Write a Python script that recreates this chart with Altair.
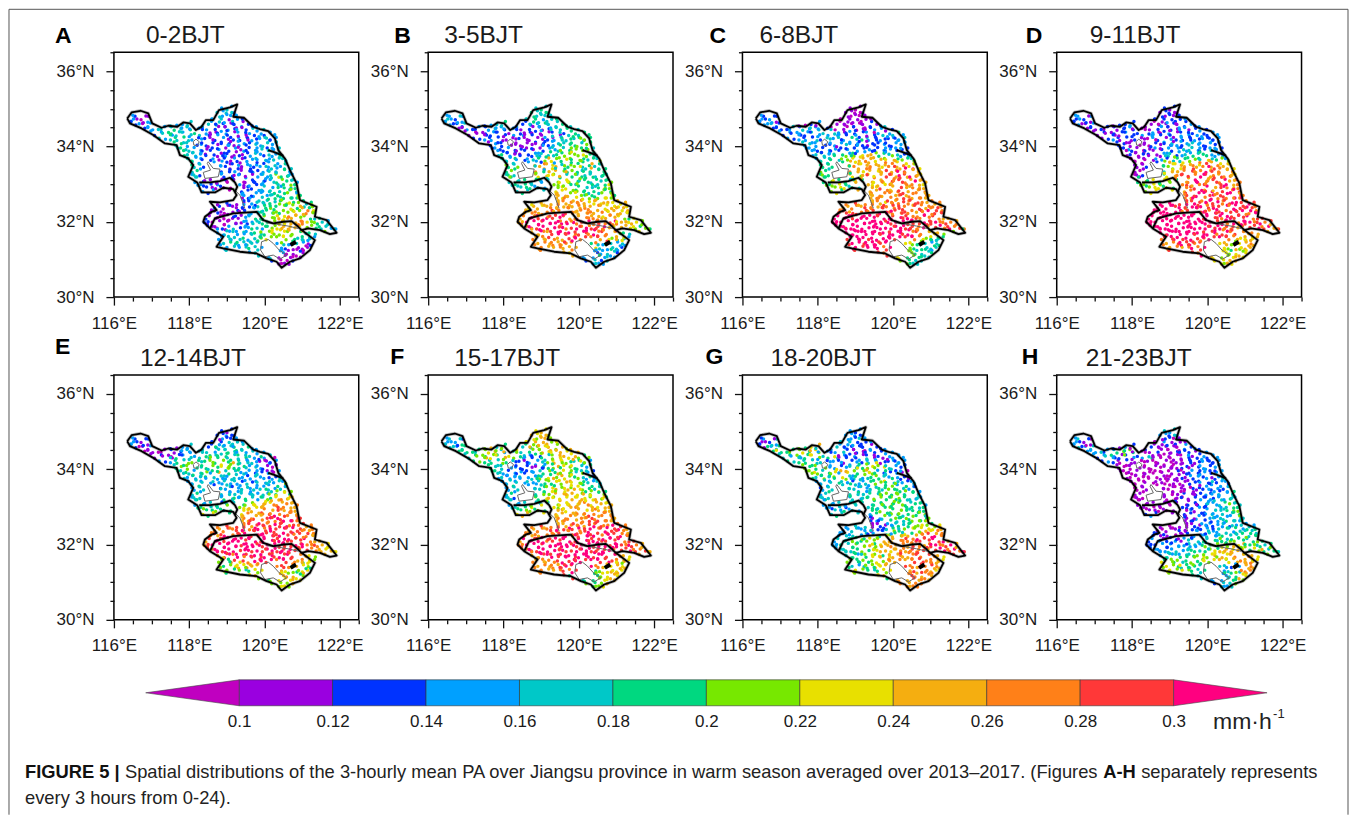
import altair as alt
import pandas as pd
from itertools import cycle

FONT = "Liberation Sans"
TICK_LON = [116, 116.5, 117, 117.5, 118, 118.5, 119, 119.5, 120, 120.5, 121, 121.5, 122, 122.5]
TICK_LAT = [30, 30.5, 31, 31.5, 32, 32.5, 33, 33.5, 34, 34.5, 35, 35.5, 36, 36.5]
BREAKS = [0.1, 0.12, 0.14, 0.16, 0.18, 0.2, 0.22, 0.24, 0.26, 0.28, 0.3]
COLORS = ["#C000C0", "#9A00E0", "#0033FF", "#00A0FF", "#00C8C8", "#00D880",
          "#77E800", "#E8E000", "#F5AE10", "#FF8018", "#FF3838", "#FF0080"]
CLASS_VALUE = dict(zip("0123456789AB", [0.09, 0.11, 0.13, 0.15, 0.17, 0.19, 0.21, 0.23, 0.25, 0.27, 0.29, 0.31]))

OUTER_LON = [116.354,116.469,116.708,116.912,117.018,117.265,117.442,117.681,117.841,118.018,118.177,118.327,118.442,118.637,118.788,119.08,119.274,119.168,119.451,119.699,119.876,120.097,120.274,120.363,120.54,120.673,120.85,120.938,121.381,121.336,121.646,121.912,121.735,121.469,121.159,120.982,121.336,121.204,120.938,120.673,120.451,120.319,120.053,119.788,119.345,118.903,118.726,118.903,118.77,118.549,118.372,118.416,118.593,118.726,118.549,118.814,119.168,119.257,119.168,118.903,118.681,118.327,118.212,117.973,118.106,117.973,117.752,117.664,117.354,117.044,116.735,116.425,116.354]
OUTER_LAT = [34.743,34.903,34.947,34.876,34.611,34.496,34.549,34.522,34.637,34.611,34.434,34.522,34.699,34.699,34.965,35.035,35.115,34.788,34.761,34.522,34.46,34.407,34.212,33.903,33.681,33.372,33.018,32.575,32.398,32.133,32.044,31.708,31.673,31.779,31.823,31.779,31.513,31.248,31.027,30.938,30.779,30.938,31.027,31.159,31.204,31.292,31.336,31.602,31.69,31.823,32.0,32.133,32.265,32.31,32.531,32.513,32.575,32.708,32.867,32.903,32.779,32.779,33.044,33.195,33.504,33.681,33.77,34.035,34.08,34.301,34.478,34.611,34.743]
RIVER_LON = [118.549,118.681,119.168,119.566,119.788,119.965,120.23,120.496,120.717,120.894,120.982]
RIVER_LAT = [31.823,32.088,32.221,32.248,32.265,32.044,31.956,32.0,32.018,31.867,31.779]
NORTH_LON = [118.265,118.549,118.814,119.08,119.212,119.274,119.212]
NORTH_LAT = [33.044,33.044,33.08,33.168,33.044,32.929,32.796]
EAST_LON = [120.097,120.274,120.496]
EAST_LAT = [33.903,33.841,33.752]
THIN_LINES = {
    "hongze": ([118.504,118.637,118.814,118.77,118.416,118.372,118.566,118.478,118.504],
               [33.593,33.416,33.398,33.195,33.15,33.31,33.372,33.549,33.593]),
    "luoma": ([118.106,118.177,118.265,118.212,118.124,118.106],
              [34.124,34.195,34.124,34.018,34.035,34.124]),
    "gaoyou": ([119.212,119.345,119.478], [32.841,32.708,32.354]),
    "taihu": ([119.92,120.097,120.23,120.389,120.584,120.407,120.23,120.009,119.894,119.92],
              [31.469,31.531,31.425,31.248,31.115,31.009,31.115,31.071,31.248,31.469]),
    "bank": ([120.053,120.319,120.628,120.894], [31.973,31.938,31.885,31.823]),
}
BLOB_LON = [120.69, 120.832]
BLOB_LAT = [31.381, 31.469]

ROW_LAT = [35.02,34.89,34.76,34.62,34.48,34.34,34.20,34.06,33.92,33.78,33.64,33.50,33.36,33.22,33.08,32.94,32.80,32.66,32.52,32.40,32.26,32.12,31.98,31.84,31.70,31.56,31.42,31.28,31.14,31.00,30.88]
ROW_LON = [
 [118.86,119.00,119.12],
 [118.79,118.93,119.05,119.19],
 [116.47,116.60,116.72,116.86,118.66,118.80,118.92,119.06,119.18,119.33],
 [116.45,116.58,116.71,116.83,116.97,117.87,118.00,118.46,118.58,118.72,118.85,118.98,119.11,119.24,119.38,119.52],
 [116.82,116.94,117.08,117.20,117.34,117.47,117.60,117.73,117.85,117.98,118.08,118.26,118.38,118.51,118.64,118.77,118.90,119.03,119.16,119.30,119.43,119.56,119.69,119.82],
 [117.08,117.21,117.34,117.47,117.60,117.73,117.87,118.00,118.14,118.27,118.40,118.53,118.66,118.80,118.93,119.06,119.20,119.33,119.46,119.60,119.73,119.86,119.99,120.10],
 [117.32,117.45,117.58,117.72,117.85,117.98,118.33,118.46,118.59,118.73,118.86,118.99,119.12,119.26,119.39,119.52,119.66,119.79,119.92,120.05,120.18,120.26],
 [117.70,117.84,117.97,118.32,118.45,118.58,118.71,118.84,118.98,119.11,119.24,119.37,119.51,119.64,119.77,119.90,120.03,120.16,120.30],
 [117.72,117.86,117.99,118.12,118.26,118.39,118.52,118.65,118.79,118.92,119.05,119.18,119.32,119.45,119.58,119.71,119.84,119.98,120.11,120.24,120.34],
 [117.82,117.95,118.08,118.22,118.35,118.48,118.61,118.75,118.88,119.01,119.14,119.28,119.41,119.54,119.67,119.80,119.94,120.07,120.20,120.33,120.46],
 [118.00,118.13,118.26,118.39,118.52,118.66,118.79,118.92,119.05,119.19,119.32,119.45,119.58,119.72,119.85,119.98,120.11,120.24,120.38,120.51],
 [118.12,118.25,118.38,118.78,118.91,119.04,119.18,119.31,119.44,119.57,119.71,119.84,119.97,120.10,120.23,120.37,120.50,120.62],
 [118.08,118.21,118.34,118.90,119.03,119.16,119.29,119.43,119.56,119.69,119.82,119.96,120.09,120.22,120.35,120.48,120.62,120.70],
 [118.02,118.15,118.28,118.84,118.97,119.10,119.24,119.37,119.50,119.63,119.77,119.90,120.03,120.16,120.29,120.43,120.56,120.69,120.77],
 [118.20,118.33,118.46,118.60,118.73,118.86,118.99,119.13,119.40,119.53,119.66,119.79,119.93,120.06,120.19,120.32,120.46,120.59,120.72,120.82],
 [118.30,118.43,118.56,118.70,118.83,118.96,119.10,119.38,119.51,119.64,119.78,119.91,120.04,120.17,120.31,120.44,120.57,120.70,120.84],
 [118.36,118.50,118.63,119.34,119.47,119.60,119.73,119.87,120.00,120.13,120.26,120.40,120.53,120.66,120.80,120.91],
 [119.36,119.49,119.62,119.75,119.89,120.02,120.15,120.28,120.42,120.55,120.68,120.81,120.93],
 [119.40,119.53,119.66,119.80,119.93,120.06,120.19,120.33,120.46,120.59,120.72,120.85,120.98,121.11,121.24],
 [118.72,118.85,118.98,119.12,119.25,119.42,119.55,119.68,119.82,119.95,120.08,120.21,120.35,120.48,120.61,120.74,120.87,121.00,121.14,121.27],
 [118.58,118.71,118.84,118.98,119.11,119.24,119.38,119.51,119.64,119.78,119.91,120.04,120.17,120.31,120.44,120.57,120.70,120.83,120.97,121.10,121.23],
 [118.44,118.57,118.70,118.84,118.97,119.10,119.23,119.37,119.50,119.63,119.76,119.90,120.03,120.16,120.29,120.43,120.56,120.69,120.82,120.96,121.09,121.22,121.33],
 [118.40,118.53,118.66,118.80,118.93,119.06,119.19,119.33,119.46,119.59,119.72,119.86,119.99,120.12,120.26,120.39,120.52,120.65,120.78,120.92,121.05,121.18,121.32,121.45,121.58,121.68],
 [118.56,118.69,118.83,118.96,119.09,119.22,119.36,119.49,119.62,119.75,119.89,120.02,120.15,120.28,120.42,120.55,120.68,120.81,120.92,121.18,121.32,121.45,121.58,121.72,121.84],
 [118.80,118.93,119.06,119.20,119.33,119.46,119.59,119.73,119.86,119.99,120.12,120.25,120.39,120.52,120.65,120.78,120.91,121.05,121.18,121.30],
 [118.90,119.03,119.16,119.30,119.43,119.56,119.69,119.83,119.96,120.09,120.22,120.36,120.49,120.62,120.75,120.88,121.02,121.15,121.28],
 [118.78,118.91,119.05,119.18,119.31,119.44,119.58,119.71,119.84,120.33,120.46,120.59,120.85,120.98,121.11,121.22],
 [118.90,119.03,119.37,119.50,119.63,119.77,119.88,120.42,120.55,120.68,120.81,120.95,121.08,121.18],
 [119.84,120.45,120.58,120.71,120.84,120.97],
 [120.10,120.24,120.42,120.55,120.68,120.80],
 [120.38,120.50,120.60],
]
ROW2_LAT = [34.95,34.82,34.69,34.55,34.41,34.27,34.13,33.99,33.85,33.71,33.57,33.43,33.29,33.15,33.01,32.87,32.73,32.59,32.46,32.33,32.19,32.05,31.91,31.77,31.63,31.49,31.35,31.21,31.07,30.94]
ROW2_LON = [
 [118.9,119.13],
 [116.55,116.8,118.86,119.1,119.3],
 [116.4,116.65,116.9,118.55,118.85,119.1,119.45],
 [116.66,116.9,117.45,117.72,117.95,118.4,118.65,118.9,119.15,119.4,119.62],
 [116.98,117.22,117.5,117.75,118.0,118.3,118.55,118.8,119.05,119.3,119.55,119.8,120.02],
 [117.2,117.45,117.7,117.95,118.3,118.55,118.8,119.05,119.3,119.55,119.8,120.05,120.22],
 [117.55,117.8,118.02,118.38,118.62,118.85,119.1,119.35,119.6,119.85,120.1,120.26],
 [117.75,118.0,118.25,118.5,118.75,119.0,119.25,119.5,119.75,120.0,120.25],
 [117.8,118.05,118.3,118.55,118.8,119.05,119.3,119.55,119.8,120.05,120.3],
 [117.92,118.18,118.43,118.68,118.93,119.18,119.43,119.68,119.93,120.18,120.43],
 [118.1,118.33,118.82,119.05,119.3,119.55,119.8,120.05,120.3,120.55],
 [118.18,118.83,119.08,119.33,119.58,119.83,120.08,120.33,120.58],
 [118.12,118.86,119.11,119.36,119.61,119.86,120.11,120.36,120.64],
 [118.12,118.9,119.15,119.48,119.73,119.98,120.23,120.48,120.72],
 [118.28,118.53,118.78,119.05,119.45,119.7,119.95,120.2,120.45,120.75],
 [118.45,118.75,119.02,119.4,119.65,119.9,120.15,120.4,120.65,120.86],
 [119.4,119.65,119.9,120.15,120.4,120.65,120.9],
 [119.4,119.65,119.9,120.15,120.4,120.65,120.9],
 [118.7,118.95,119.15,119.45,119.7,119.95,120.2,120.45,120.7,120.95,121.2],
 [118.72,118.95,119.2,119.45,119.7,119.95,120.2,120.45,120.7,120.95,121.2,121.35],
 [118.55,118.78,119.02,119.28,119.53,119.78,120.03,120.28,120.53,120.78,121.03,121.28],
 [118.5,118.75,119.0,119.25,119.5,119.75,120.0,120.25,120.5,120.75,121.0,121.25,121.5],
 [118.48,118.73,118.98,119.23,119.48,119.73,119.98,120.23,120.48,120.73,120.95,121.25,121.5,121.72],
 [118.7,118.95,119.2,119.45,119.7,119.95,120.2,120.45,120.7,120.95,121.55,121.8],
 [118.95,119.2,119.45,119.7,119.95,120.2,120.45,120.7,120.95,121.2],
 [118.82,119.07,119.32,119.57,119.82,120.45,120.7,120.95,121.2],
 [118.95,119.2,119.45,119.7,120.45,120.7,120.95,121.15],
 [119.55,119.8,120.5,120.75,121.0],
 [120.15,120.5,120.75,120.9],
 [120.42,120.58],
]
# small per-station position estimates (key into STATION_OFFSET), one string per row
OFFSET_CODES = ["528","4615","37291","82645193","57138926471","29461873526","63918254719","14752968341","96283147592","35817462913","71946258381","48263975162","25719384625","93581647293","16472859316","84395127648","52861739452","37146982513","69253814726","14978263591","83516947265","27691348572","51482736914","96327158463","42871965328","78135269417","35962814753","61784392516","2956","8173","546"]
STATION_OFFSET = {"1": (-0.05, -0.04), "2": (0.0, -0.05), "3": (0.05, -0.03), "4": (-0.05, 0.01), "5": (0.0, 0.0),
                  "6": (0.05, -0.01), "7": (-0.04, 0.04), "8": (0.01, 0.05), "9": (0.05, 0.04)}

CLASSES = {
 "A": ["343","4432","3201443123","3201334434231212","233434543453432123213243","234534345432123213132323","3454543212312321323443","4543221232133243433","544332123123132334234","543431212312123434345","54322312132134343443","532321231323234354","453213212323343434","3423221231343467543","32112101013232356543","3213210323234343545","3232323434545543","1323434545456","123434545656545","32121123455656565456","121012123455565667698","21010121345566788986654","21010121323455678889976543","1021342334356778887654433","34343345456767665454","3434534567667654543","3454345433434312","34345433210101","430101","321012","101"],
 "B": ["454","5445","4323554344","4323445222345445","123232343323212121234454","101223221323211112124545","2323211211112133454545","2321111212234455466","322321211123344556564","453321223344556667654","54532345687656565454","646889878656545454","565988786565445455","4548787654545445454","45454534677654545456","5454343676545454567","4547876565454656","8878765656767","898989878787878","78788989898989878787","89989A89A989898987888","89BBAB9AB98989898788765","8BBBBABB9BAB9AB9A9AB987876","9BABBAB9BAB9BABA987876565","8898ABAB9ABAB9A98654","898988A9B9A9A876543","9898988985434343","89898983435432","823432","323234","343"],
 "C": ["101","1012","3232010101","2343223101010121","232343434342101010102334","232323434343122323234345","2323244343545432322334","3432334323212232333","332232323232322323322","345434565678865544323","45454567889876787654","545898789878989786","6549879878A898AB87","5558768798A98BA8987","567574758787A9A98B98","5675454878798A98987","6758989789A89898","8898989A98989","8987989A9A98989","8898998A9A9A98A989A9","9A8A9A9ABA9A9A98A9BA9","BBBBABBBBABBABABA9A9A98","BBBBBBBBBBBBABBABABAAB9A98","BABBBBBBBBBBBABA9B8A9B9A9","BBBBBBBBBBBBB9A98786","BBBABBBBBABAB976545","ABBABBBAB7654345","BABBBAB6545434","A65445","765454","654"],
 "D": ["212","1221","2323121232","2312322102132123","121122122321012302132123","121212322323103212323223","2321211032132322323233","2211021324323432322","232102132323434322332","121012113423435453323","10101232454565478564","102567788987A89887","10146879A89B8A9897","0125789A89BA898A987","5657676589AB89A9B8A9","65765759A89AB8AB989","6778A9B8AB9AB9A8","9A8B9AB9A9B9A","9ABA9BAB9ABA9BA","BBBBA8BAB9ABAB9BABA9","BBBBBB9ABAB9BABABAB9B","BBBBBBBBBBBABAB9BABAB9A","BBBBBBBBBBBBBBABAB9BABAB9A","BBBBBBBBBBBBAB9A989ABAB8A","BBBBBBBBBBABAB9A9898","ABBABBAB9BABA987878","989ABAB9A7867898","8A89BAB7656878","B76787","876878","767"],
 "E": ["212","2322","3212323434","3212334223434545","011012123434343445454343","121012343454455445543534","2345464565658543431033","5664565776545343103","454345658454343232103","433345434343323432334","34343234343243433343","354234234343343434","453434343434345656","3544545454346578878","34343234567788798989","56545456787898A9898","7577898A9AB9A989","898A9AB9ABA9A","9A8AB9ABABA9A89","98A9A89AB9ABABABA989","98AB9AABABBABABAB9A98","8ABBABBBABBABBABAB9AB98","8ABBBBBABBBBABBABABAB9A987","9BABBBABBBABBABABA9A98787","8AB9BABBABABBABA9876","6597A9BABAB9BA98576","6567879889A98765","75645678765787","689876","567678","676"],
 "F": ["787","8786","3432786876","3432545454687868","545456786434345678786878","456586587654322546787865","6545462213346787654543","5443221324568765434","543232323456587654432","342334345678687654323","34343334565768765433","354345678786765454","453456788787656765","3426578687878767675","34345434678878978878","4567565787898789878","7888789898A98989","8989898A9A989","9889A98A9A9B9A9","889898A9AB9AB9ABAB98","9898999ABAB9BAB9ABABA","8BBAB9ABABBABBABABBAB9A","9BBBBABBBBBBABBABBABBABA98","9BABBBBABABBBABABB9ABA9A8","89ABBABBABBBABBAB987","8989ABABBBABBABA987","989898ABAB987878","8989ABA5678787","A56787","465678","567"],
 "G": ["323","3323","1324343232","2134578433232212","545656758763234212103223","453435764574323212121333","4545443321232343122343","6563323344567674323","676456787656763232210","543656763434565433221","34345432334567543322","234543434545654332","345434354565654543","4543434456565654343","34345454454565654543","3232343454565654545","4543456565456564","2134565456565","012134545676567","33434123456567678798","343434234565678889AB9","34456567688889A9AB9ABAB","34545678567898988989AB9AB8","454556567878989A9A8ABAB9A","45345675788989A9A987","6545676878989AA9987","543456778A989A98","76545679A89897","5A9898","898989","989"],
 "H": ["434","3223","3410232121","3430432210121032","343234565651012101203212","234321232345101010212323","3210210101101012123223","1011010010122123234","010101001012123223233","100010010112132321234","10010010110122323234","011001011212323234","110101021223234345","0101001012323234543","10110101123234345654","1010101232323434565","2322123234343456","1123234345434","012123234234343","10101123234345454545","212101123234345454545","23212323434545656545456","23232343434565676878654545","3234343454567878987565454","34345456767887898987","5654565676786789987","6765454544323898","76765453454989","434587","323456","434"],
}
CLASSES2 = {
 "A": ["34","31433","2133442","33434321212","3454321323234","4543213212343","543212131324","43212312343","54321212343","43232123234","5432132334","432123435","4323234","422123454","3210123456","2101234565","3234565","2345656","12132456786","101234567897","101234567886","2101345678965","21013456789654","343456788764","3434567654","345456543","34343210","34312","4101","01"],
 "B": ["45","34544","3334545","21234343445","1212321234454","2121112345565","121111234565","22112345665","32123456765","43234567654","4432345687","543456785","565786545","654876545","4543676545","4546765456","8876565","8987876","78898987878","789898987878","899AB9898987","8BBAB9A998787","8BBBABA9AB9876","8BAB9ABA9A76","8ABAB9A987","989AB9A87","98987543","87334","3543","43"],
 "C": ["10","32101","3210101","32101012123","3232343321012","3323432212323","432323212233","33212322323","32323232322","34565788654","4587889876","558989AB8","658A8AB98","558789AB8","6758798A98","6788A9A898","899A898","89A9A98","9A89A9A9A98","A9A9ABA9A9A9","ABABAB9A9B9A","BBBBBABAB9A98","BBBBBBABA9ABA9","BBBBBABA9765","BBBABAB975","ABBAB7654","BAB96545","A9654","7654","54"],
 "D": ["21","31212","2312123","12123102132","1212103213232","1212132132323","212102132323","21021324323","01213434543","01134656543","0168789876","1579A9B98","178A9BA98","579AB8A98","6756AB9AB8","6779AB8AB9","9AB9AB9","AB9BA9B","BBABABA9BA9","BBBABAB9BAB9","BBBBBABABA9B","BBBBBBBABAB9A","BBBBBBAB9ABA98","BBBBBAB9A889","ABBAB9A987","9ABA98678","89A97678","A9786","7687","78"],
 "E": ["22","32123","3212343","01213454343","1012345453433","3454565543210","456567654321","56545654321","45434343432","34343432343","3434343456","343434567","434345678","454567898","5456778998","5657889A98","898AB9A","9AB9AB9","9A9ABABA9A9","A9ABABABA9A9","9ABBBABABA98","ABBBBABABAB98","ABBBBBABABA987","BABBABABA987","7A9ABABA97","65789A987","65678765","78765","6787","67"],
 "F": ["78","34786","4357687","45686786786","4567864567878","5676432467876","545221356765","54323245654","43323456765","34345678654","3434567654","345678765","456787878","456778787","4567678978","5678789898","8989A98","89A9A98","9A9AB9AB9A9","99AB9ABABA98","9ABAB9ABABA9","9BBABABABAB9A","9BBBABABBABA98","9BABABBABA87","89ABABBA98","989AB9876","98A95678","A5678","5678","56"],
 "G": ["32","21343","2134323","57654321232","4567321212133","5453212343123","654334567432","65678786543","65434565432","34543456543","3454345654","345456565","454565654","345656545","3434565654","4545656565","2345656","1234567","34312345678","343423456789","345567889AB9","345678899AB98","34567889A9AB98","456788A9A9AB","5678989A98","656789A98","76578A98","789A9","9A98","89"],
 "H": ["34","32101","3210121","23210210123","3456101012323","2321010112323","101001012323","10100101232","01001012323","10010112343","0100101232","011012323","110212334","012123434","1010212345","1010123456","2123434","1232345","10112323434","212132343454","212123434565","2321234456565","23234345676786","343456788765","5656767887","767654389","76543898","54567","3456","43"],
}

# title, letter dx, letter y, title dx, title y relative to each panel's plot area
PANEL_TEXT = {
 "A": ("0-2BJT", -59, -16, 32, -16), "B": ("3-5BJT", -34, -16, 16, -16),
 "C": ("6-8BJT", -33, -16, 17, -16), "D": ("9-11BJT", -31, -16, 33, -16),
 "E": ("12-14BJT", -59, -28, 26, -16), "F": ("15-17BJT", -38, -18, 26, -16),
 "G": ("18-20BJT", -37, -18, 28, -16), "H": ("21-23BJT", -35, -18, 29, -16),
}

TXT = "#1a1a1a"
color_scale = alt.Scale(type="threshold", domain=BREAKS, range=COLORS)
x_scale = alt.Scale(domain=[116, 122.5], nice=False, zero=False)
y_scale = alt.Scale(domain=[30, 36.5], nice=False, zero=False)

def tick_len(cond):
    return {"condition": {"test": cond, "value": 8}, "value": 4}

x_axis = alt.Axis(values=TICK_LON, title=None, grid=False, domain=False, labelOverlap=False, labelFlush=False,
                  labelExpr="datum.value % 2 === 0 ? datum.value + '°E' : ''",
                  tickColor="#111", tickWidth=1.3, tickSize=tick_len("datum.value % 2 === 0"),
                  labelFont=FONT, labelFontSize=17, labelColor=TXT, labelPadding=10)
y_axis = alt.Axis(values=TICK_LAT, title=None, grid=False, domain=False, labelOverlap=False, labelFlush=False,
                  labelExpr="datum.value % 2 === 0 ? datum.value + '°N' : ''",
                  tickColor="#111", tickWidth=1.3, tickSize=tick_len("datum.value % 2 === 0"),
                  labelFont=FONT, labelFontSize=17, labelColor=TXT, labelPadding=12)

def line_df(lon, lat, name):
    return pd.DataFrame({"lon": lon, "lat": lat, "name": name, "i": range(len(lon))})

thick_df = pd.concat([line_df(OUTER_LON, OUTER_LAT, "outer"), line_df(RIVER_LON, RIVER_LAT, "river"),
                      line_df(NORTH_LON, NORTH_LAT, "north"), line_df(EAST_LON, EAST_LAT, "east")])
thin_df = pd.concat([line_df(v[0], v[1], k) for k, v in THIN_LINES.items()])
blob_df = line_df(BLOB_LON, BLOB_LAT, "blob")

def lines(df, width, color, opacity=1):
    return alt.Chart(df).mark_line(strokeWidth=width, color=color, strokeJoin="round", opacity=opacity).encode(
        x=alt.X("lon:Q", scale=x_scale, axis=x_axis),
        y=alt.Y("lat:Q", scale=y_scale, axis=y_axis),
        detail="name:N", order="i:Q")

def stations(lats, lons, codes_by_row, recs):
    for lat, row, codes, offs in zip(lats, lons, codes_by_row, OFFSET_CODES):
        for lon, c, o in zip(row, cycle(codes), cycle(offs)):
            dlon, dlat = STATION_OFFSET[o]
            recs.append({"lon": lon + dlon, "lat": lat + dlat, "pa": CLASS_VALUE[c]})

def panel(key):
    title, ldx, ly, tdx, ty = PANEL_TEXT[key]
    recs = []
    stations(ROW_LAT, ROW_LON, CLASSES[key], recs)
    stations(ROW2_LAT, ROW2_LON, CLASSES2[key], recs)
    dots = alt.Chart(pd.DataFrame(recs)).mark_circle(size=12, opacity=1).encode(
        x=alt.X("lon:Q", scale=x_scale, axis=x_axis),
        y=alt.Y("lat:Q", scale=y_scale, axis=y_axis),
        color=alt.Color("pa:Q", scale=color_scale, legend=None))
    letter = alt.Chart(pd.DataFrame({"t": [key]})).mark_text(
        font=FONT, fontSize=23, fontWeight="bold", color="#000", align="left", baseline="middle").encode(
        text="t:N", x=alt.value(ldx), y=alt.value(ly))
    head = alt.Chart(pd.DataFrame({"t": [title]})).mark_text(
        font=FONT, fontSize=24.5, color=TXT, align="left", baseline="middle").encode(
        text="t:N", x=alt.value(tdx), y=alt.value(ty))
    return alt.layer(dots, lines(thin_df, 1, "#666"), lines(thick_df, 3.4, "#000", 0.25), lines(thick_df, 1.8, "#000"),
                     lines(blob_df, 4, "#000"), letter, head).properties(width=245, height=245)

def text_mark(s, x, y, size, weight="normal", color="#222"):
    return alt.Chart(pd.DataFrame({"t": [s]})).mark_text(
        font=FONT, fontSize=size, fontWeight=weight, color=color, align="left", baseline="middle").encode(
        text="t:N", x=alt.value(x), y=alt.value(y))

def rule(x, y, x2=None, y2=None):
    enc = {"x": alt.value(x), "y": alt.value(y)}
    if x2 is not None:
        enc["x2"] = alt.value(x2)
    if y2 is not None:
        enc["y2"] = alt.value(y2)
    return alt.Chart(pd.DataFrame({"a": [0]})).mark_rule(color="#555", strokeWidth=1).encode(**enc)

# colour bar
BAR_START = [0.1, 0.12, 0.14, 0.16, 0.18, 0.2, 0.22, 0.24, 0.26, 0.28]
BAR_END = [0.12, 0.14, 0.16, 0.18, 0.2, 0.22, 0.24, 0.26, 0.28, 0.3]
BAR_MID = [0.11, 0.13, 0.15, 0.17, 0.19, 0.21, 0.23, 0.25, 0.27, 0.29]
bar_df = pd.DataFrame({"a": BAR_START, "b": BAR_END, "m": BAR_MID, "lo": 0, "hi": 1})
cb_x = alt.Scale(domain=[0.0732, 0.32727], range=[0, 1188], nice=False, zero=False)
cb_y = alt.Scale(domain=[0, 1], range=[8, -18], nice=False)
cb_axis = alt.Axis(values=BREAKS, title=None, grid=False, domain=False, ticks=False, labelOverlap=False,
                   labelFlush=False, format="~g", labelFont=FONT, labelFontSize=17, labelColor=TXT, labelPadding=8)
rects = alt.Chart(bar_df).mark_rect(stroke="#333", strokeWidth=0.6).encode(
    x=alt.X("a:Q", scale=cb_x, axis=cb_axis), x2="b:Q",
    y=alt.Y("lo:Q", scale=cb_y, axis=None), y2="hi:Q",
    color=alt.Color("m:Q", scale=color_scale, legend=None))

def tri(xs, ys, y2s, color):
    return alt.Chart(pd.DataFrame({"x": xs, "y": ys, "y2": y2s})).mark_area(
        color=color, stroke="#444", strokeWidth=0.6).encode(
        x=alt.X("x:Q", scale=cb_x, axis=cb_axis),
        y=alt.Y("y:Q", scale=cb_y, axis=None), y2="y2:Q")

left_tri = tri([0.08, 0.1], [0.5, 1], [0.5, 0], COLORS[0])
right_tri = tri([0.3, 0.32], [1, 0.5], [0, 0.5], COLORS[-1])

CAP = 18.35
bar = alt.layer(
    rects, left_tri, right_tri,
    text_mark("mm·h", 1100, 24, 23), text_mark("-1", 1160, 16, 13),
    text_mark("FIGURE 5 |", -89, 74, CAP, "bold", "#111"),
    text_mark("Spatial distributions of the 3-hourly mean PA over Jiangsu province in warm season averaged over 2013–2017. (Figures", 11, 74, CAP),
    text_mark("A-H", 990, 74, CAP, "bold", "#111"),
    text_mark("separately represents", 1028, 74, CAP),
    text_mark("every 3 hours from 0-24).", -89, 100, CAP),
    rule(-105, -689, y2=117), rule(-105, -689, x2=1235), rule(1235, -689, y2=117),
).properties(width=245, height=8, view=alt.ViewConfig(stroke=None))

chart = alt.concat(panel("A"), panel("B"), panel("C"), panel("D"),
                   panel("E"), panel("F"), panel("G"), panel("H"), bar,
                   columns=4, spacing={"row": 78, "column": 69.5}, bounds="flush"
                   ).properties(padding=0, background="white").configure_view(stroke="#000", strokeWidth=1.5)

chart.save("out.html", embed_options={"renderer": "svg", "actions": False})
